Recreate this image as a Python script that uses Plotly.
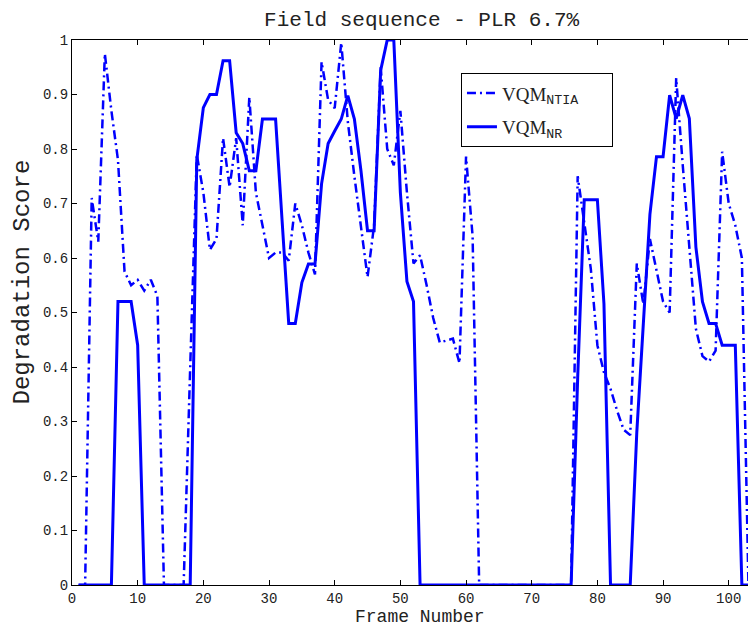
import plotly.graph_objects as go

frames = list(range(1, 105))

vqm_ntia = [
    0, 0, 0.71, 0.63, 0.975, 0.87, 0.78, 0.575, 0.55, 0.56,
    0.54, 0.56, 0.53, 0, 0, 0, 0, 0.40, 0.79, 0.72,
    0.615, 0.635, 0.82, 0.73, 0.82, 0.66, 0.895, 0.72, 0.66, 0.60,
    0.61, 0.61, 0.595, 0.70, 0.66, 0.61, 0.57, 0.96, 0.89, 0.875,
    0.995, 0.85, 0.75, 0.66, 0.565, 0.66, 0.95, 0.80, 0.77, 0.87,
    0.72, 0.59, 0.605, 0.55, 0.49, 0.445, 0.448, 0.452, 0.407, 0.786,
    0.64, 0, 0, 0, 0, 0, 0, 0, 0, 0,
    0, 0, 0, 0, 0, 0, 0.75, 0.66, 0.58, 0.44,
    0.39, 0.36, 0.32, 0.285, 0.275, 0.59, 0.515, 0.635, 0.58, 0.52,
    0.50, 0.93, 0.77, 0.62, 0.47, 0.42, 0.41, 0.43, 0.795, 0.70,
    0.66, 0.60, 0, 0,
]

vqm_nr = [
    0, 0, 0, 0, 0, 0, 0.52, 0.52, 0.52, 0.44,
    0, 0, 0, 0, 0, 0, 0, 0, 0.78, 0.876,
    0.90, 0.90, 0.962, 0.962, 0.83, 0.81, 0.76, 0.76, 0.855, 0.855,
    0.855, 0.667, 0.48, 0.48, 0.555, 0.589, 0.589, 0.736, 0.81, 0.833,
    0.855, 0.898, 0.855, 0.76, 0.65, 0.65, 0.944, 1.0, 1.0, 0.72,
    0.557, 0.52, 0, 0, 0, 0, 0, 0, 0, 0,
    0, 0, 0, 0, 0, 0, 0, 0, 0, 0,
    0, 0, 0, 0, 0, 0, 0.38, 0.707, 0.707, 0.707,
    0.516, 0, 0, 0, 0, 0.28, 0.48, 0.68, 0.786, 0.786,
    0.899, 0.856, 0.899, 0.856, 0.62, 0.52, 0.48, 0.48, 0.44, 0.44,
    0.44, 0, 0, 0,
]

x_ticks = list(range(0, 101, 10))
y_ticks = [i / 10 for i in range(11)]
y_labels = ["0", "0.1", "0.2", "0.3", "0.4", "0.5", "0.6", "0.7", "0.8", "0.9", "1"]

mono = "Liberation Mono"
ink = "#222"
pad = "\u00a0" * 6

fig = go.Figure()
fig.add_trace(go.Scatter(
    x=frames, y=vqm_ntia, mode="lines", legendgroup="ntia",
    name="VQM<sub><span style='font-family:Liberation Mono'>NTIA</span></sub>" + pad,
    line=dict(color="#0000ff", width=2.5, dash="9px,4px,2px,4px"),
))
fig.add_trace(go.Scatter(
    x=frames, y=vqm_nr, mode="lines", legendgroup="nr",
    name="VQM<sub><span style='font-family:Liberation Mono'>NR</span></sub>",
    line=dict(color="#0000ff", width=3),
))

axis_common = dict(
    showgrid=False, zeroline=False, showline=True, linecolor="black", linewidth=1,
    mirror="ticks", ticks="inside", ticklen=5, tickcolor="black",
    tickfont=dict(family=mono, size=14, color=ink),
)

fig.update_xaxes(range=[0, 104], tickvals=x_ticks, **axis_common)
fig.update_yaxes(range=[0, 1], tickvals=y_ticks, ticktext=y_labels, **axis_common)

# axis labels as annotations so they sit where the reference has them
fig.add_annotation(text="Frame Number", showarrow=False,
                   xref="paper", yref="paper", x=0.51, y=0, xanchor="center", yanchor="middle",
                   yshift=-32, font=dict(family=mono, size=18, color=ink))
fig.add_annotation(text="Degradation Score", textangle=-90, showarrow=False,
                   xref="paper", yref="paper", x=0, y=0.555, xanchor="center", yanchor="middle",
                   xshift=-49, font=dict(family=mono, size=24, color=ink))

fig.update_layout(
    width=748, height=618,
    margin=dict(l=64, r=1, t=32, b=41),
    paper_bgcolor="white", plot_bgcolor="white",
    title=dict(text="Field sequence - PLR 6.7%", x=0.553, xanchor="center", xref="container",
               y=0.982, yanchor="middle", yref="container",
               font=dict(family=mono, size=21, color=ink)),
    legend=dict(x=0.5695, y=0.939, xanchor="left", yanchor="top",
                bordercolor="black", borderwidth=1, bgcolor="white",
                font=dict(family="Liberation Serif", size=19, color=ink),
                traceorder="grouped", tracegroupgap=6),
)

fig.write_html("out.html")
